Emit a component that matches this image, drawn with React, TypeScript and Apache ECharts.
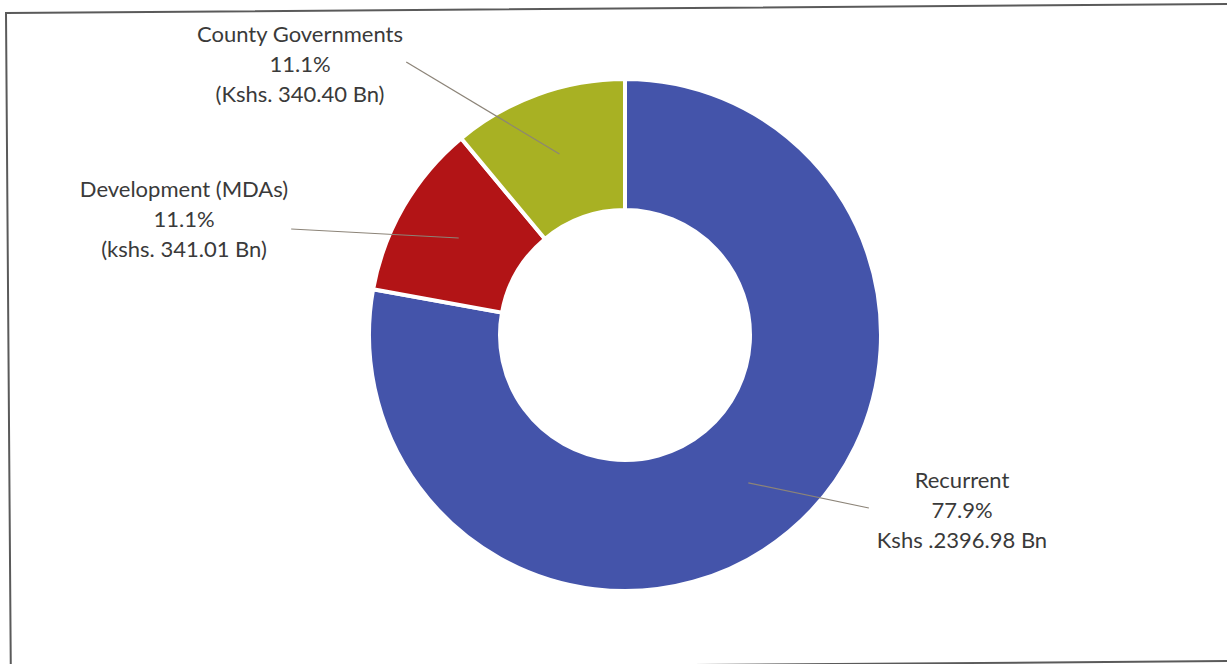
import React, { useEffect, useRef } from "react";
import * as echarts from "echarts";

const categories = ["Recurrent", "Development (MDAs)", "County Governments"];
const valuesBn = [2396.98, 341.01, 340.4];
const percentLabels = ["77.9%", "11.1%", "11.1%"];
const amountLabels = ["Kshs .2396.98 Bn", "(kshs. 341.01 Bn)", "(Kshs. 340.40 Bn)"];
const sliceColors = ["#4454AA", "#B21416", "#A8B123"];

const CENTER = [625, 335];
const RADIUS = [125, 256];
const labelCenters = [
  [962, 509],
  [184, 218],
  [300, 63],
];
const lineEndDy = [-1, 11, -1];
const FONT_FAMILY = "Lato";
const FONT_SIZE = 22;

function labelText(i: number) {
  return `${categories[i]}\n${percentLabels[i]}\n${amountLabels[i]}`;
}

function measureWidth(text: string) {
  const ctx = document.createElement("canvas").getContext("2d");
  if (!ctx) return text.length * FONT_SIZE * 0.5;
  ctx.font = `${FONT_SIZE}px ${FONT_FAMILY}`;
  return Math.max(...text.split("\n").map((s) => ctx.measureText(s).width));
}

export default function App() {
  const ref = useRef<HTMLDivElement>(null);

  useEffect(() => {
    if (!ref.current) return;
    const chart = echarts.init(ref.current, undefined, { renderer: "svg" });
    const total = valuesBn.reduce((a, b) => a + b, 0);

    const leaderLines = valuesBn.map((v, i) => {
      let cum = 0;
      for (let j = 0; j < i; j++) cum += valuesBn[j];
      const mid = ((cum + v / 2) / total) * Math.PI * 2;
      const rm = (RADIUS[0] + RADIUS[1]) / 2 + 2;
      const sx = CENTER[0] + rm * Math.sin(mid);
      const sy = CENTER[1] - rm * Math.cos(mid);
      const [lx, ly] = labelCenters[i];
      const w = measureWidth(labelText(i));
      const ex = lx < CENTER[0] ? lx + w / 2 + 3 : lx - w / 2 - 8;
      const ey = ly + lineEndDy[i];
      return {
        type: "line",
        silent: true,
        z: 100,
        shape: { x1: sx, y1: sy, x2: ex, y2: ey },
        style: { stroke: "#8c8478", lineWidth: 1.2 },
      };
    });

    const option = {
      animation: false,
      backgroundColor: "#ffffff",
      graphic: [
        {
          type: "polygon",
          silent: true,
          shape: {
            points: [
              [6, 13],
              [1240, 3.9],
              [1240, 661],
              [10.8, 670],
            ],
          },
          style: { fill: "none", stroke: "#5a5a5a", lineWidth: 2 },
        },
        ...leaderLines,
      ],
      series: [
        {
          type: "pie",
          center: CENTER,
          radius: RADIUS,
          startAngle: 90,
          clockwise: true,
          avoidLabelOverlap: false,
          itemStyle: { borderColor: "#ffffff", borderWidth: 4 },
          label: {
            show: true,
            position: "outside",
            formatter: (p: any) => labelText(p.dataIndex),
            fontFamily: FONT_FAMILY,
            fontSize: FONT_SIZE,
            lineHeight: 30,
            color: "#3a3a3a",
            align: "center",
          },
          labelLine: { show: false },
          labelLayout: (params: any) => {
            const [lx, ly] = labelCenters[params.dataIndex];
            return { x: lx, y: ly, align: "center", verticalAlign: "middle" };
          },
          data: categories.map((name, i) => ({
            name,
            value: valuesBn[i],
            itemStyle: { color: sliceColors[i] },
          })),
        },
      ],
    };

    chart.setOption(option as any);
    return () => chart.dispose();
  }, []);

  return (
    <div
      ref={ref}
      style={{ position: "fixed", left: 0, top: 0, width: 1227, height: 664 }}
    />
  );
}
